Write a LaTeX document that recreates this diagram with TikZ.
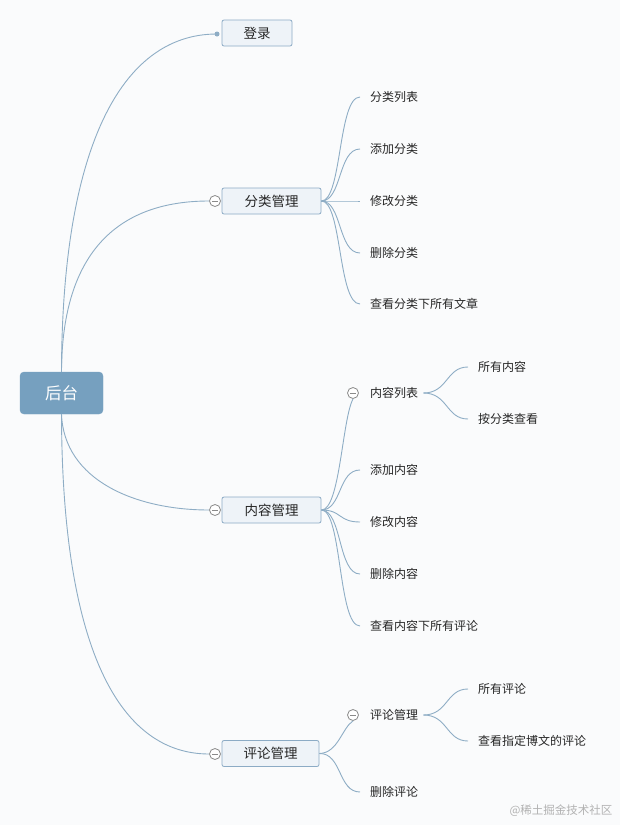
\documentclass[tikz,border=0pt]{standalone}
\usepackage{fontspec}
\setmainfont{Noto Sans CJK SC}
\definecolor{bg}{HTML}{FAFBFC}
\definecolor{rootfill}{HTML}{76A0BF}
\definecolor{boxfill}{HTML}{EEF3F8}
\definecolor{boxline}{HTML}{8CABC5}
\definecolor{link}{HTML}{8EADC5}
\definecolor{circ}{HTML}{8A8A8A}
\tikzset{
  rootbox/.style={draw=rootfill,fill=rootfill,rounded corners=4pt,minimum width=83pt,minimum height=42pt,text=white,font=\fontsize{16.5}{18}\selectfont},
  mainbox/.style={draw=boxline,fill=boxfill,rounded corners=2pt,minimum height=26pt,line width=0.8pt,font=\fontsize{13.5}{15}\selectfont,text=black!85},
  leaf/.style={anchor=west,inner xsep=10pt,inner ysep=2pt,font=\fontsize{12}{14}\selectfont,text=black!85},
  lnk/.style={draw=link,line width=0.9pt},
  fold/.style={circle,draw=circ,fill=white,minimum size=11pt,inner sep=0pt,line width=0.8pt,
    path picture={\draw[circ,line width=0.8pt] ([xshift=-3.2pt]path picture bounding box.center) -- ([xshift=3.2pt]path picture bounding box.center);}},
  dotn/.style={circle,fill=link,minimum size=5pt,inner sep=0pt}
}
\begin{document}
\begin{tikzpicture}[x=1pt,y=-1pt]
\fill[bg] (0,0) rectangle (620,825);
\useasboundingbox (0,0) rectangle (620,825);

% root
\node[rootbox] (root) at (61.5,393) {后台};

% main boxes
\node[mainbox,minimum width=70pt] (login) at (257,33) {登录};
\node[mainbox,minimum width=99pt] (cat) at (271.5,201) {分类管理};
\node[mainbox,minimum width=99pt] (con) at (271.5,510) {内容管理};
\node[mainbox,minimum width=97pt] (com) at (270.5,753.5) {评论管理};

\node[dotn] (ldot) at (217,34) {};
\node[fold] (fcat) at (215,201) {};
\node[fold] (fcon) at (215,510) {};
\node[fold] (fcom) at (215,754) {};

% root connectors
\draw[lnk] (root.north) .. controls (62,150) and (120,34) .. (ldot.center);
\draw[lnk] (root.north) .. controls (62,250) and (120,201) .. (fcat.west);
\draw[lnk] (root.south) .. controls (64,480) and (135,510) .. (fcon.west);
\draw[lnk] (root.south) .. controls (62,650) and (120,754) .. (fcom.west);

% category children
\node[leaf] (c1) at (360,97) {分类列表};
\node[leaf] (c2) at (360,149) {添加分类};
\node[leaf] (c3) at (360,201) {修改分类};
\node[leaf] (c4) at (360,253) {删除分类};
\node[leaf] (c5) at (360,304) {查看分类下所有文章};
\foreach \n/\y in {c1/97,c2/149,c3/201,c4/253,c5/304}
  \draw[lnk] (cat.east) .. controls (342,201) and (338,\y) .. (\n.west);

% content children
\node[fold] (fcl) at (353,393) {};
\node[leaf,inner xsep=0pt] (cl) at (370,393) {内容列表};
\node[leaf] (n2) at (360,470) {添加内容};
\node[leaf] (n3) at (360,522) {修改内容};
\node[leaf] (n4) at (360,574) {删除内容};
\node[leaf] (n5) at (360,626) {查看内容下所有评论};
\draw[lnk] (con.east) .. controls (340,510) and (342,420) .. (fcl.south);
\foreach \n/\y in {n2/470,n3/522,n4/574,n5/626}
  \draw[lnk] (con.east) .. controls (342,510) and (338,\y) .. (\n.west);

\node[leaf] (cl1) at (468,367) {所有内容};
\node[leaf] (cl2) at (468,419) {按分类查看};
\draw[lnk] ([xshift=5pt]cl.east) .. controls (448,393) and (446,367) .. (cl1.west);
\draw[lnk] ([xshift=5pt]cl.east) .. controls (448,393) and (446,419) .. (cl2.west);

% comment children
\node[fold] (fcm) at (353,715) {};
\node[leaf,inner xsep=0pt] (cm) at (370,715) {评论管理};
\node[leaf] (m2) at (360,792) {删除评论};
\draw[lnk] (com.east) .. controls (338,753) and (342,728) .. (fcm.south);
\draw[lnk] (com.east) .. controls (342,753) and (338,792) .. (m2.west);

\node[leaf] (cm1) at (468,689) {所有评论};
\node[leaf] (cm2) at (468,741) {查看指定博文的评论};
\draw[lnk] ([xshift=5pt]cm.east) .. controls (448,715) and (446,689) .. (cm1.west);
\draw[lnk] ([xshift=5pt]cm.east) .. controls (448,715) and (446,741) .. (cm2.west);

% watermark
\node[anchor=east,text=black!30,font=\fontsize{11.5}{13}\selectfont] (wm) at (616,811) {@稀土掘金技术社区};
\end{tikzpicture}
\end{document}
